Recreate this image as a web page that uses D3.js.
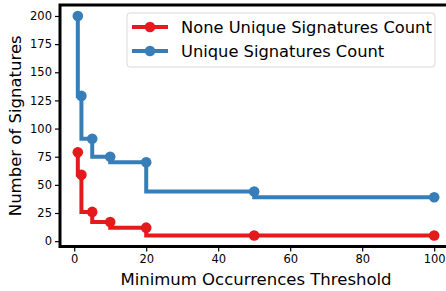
<!DOCTYPE html>
<html>
<head>
<meta charset="utf-8">
<script src="https://cdn.jsdelivr.net/npm/d3@7"></script>
<style>
  body { margin: 0; background: #fff; }
  svg { display: block; font-family: "DejaVu Sans", sans-serif; }
</style>
</head>
<body>
<svg id="chart" width="446" height="291"></svg>
<script>
// thresholds on x, counts on y
var thresholds = [1, 2, 5, 10, 20, 50, 100];
var noneUnique = [79, 59, 26, 17, 12, 5, 5];
var uniqueCounts = [200, 129, 91, 75, 70, 44, 39];
var seriesNames = ["None Unique Signatures Count", "Unique Signatures Count"];
var seriesColors = ["#e41a1c", "#377eb8"];
var xTicks = [0, 20, 40, 60, 80, 100];
var yTicks = [0, 25, 50, 75, 100, 125, 150, 175, 200];

var svg = d3.select("#chart");
var plotL = 60, plotT = 5, plotR = 452, plotB = 246.5;

var x = d3.scaleLinear().domain([-3.95, 104.95]).range([plotL, plotR]);
var y = d3.scaleLinear().domain([-4.75, 209.75]).range([plotB, plotT]);

var series = [noneUnique, uniqueCounts];

var line = d3.line()
    .x(function(d, i){ return x(thresholds[i]); })
    .y(function(d){ return y(d); })
    .curve(d3.curveStepBefore);

series.forEach(function(vals, k){
    svg.append("path")
        .datum(vals)
        .attr("d", line)
        .attr("fill", "none")
        .attr("stroke", seriesColors[k])
        .attr("stroke-width", 4);

    svg.selectAll(".pt" + k)
        .data(vals)
        .enter()
        .append("circle")
        .attr("class", "pt" + k)
        .attr("cx", function(d, i){ return x(thresholds[i]); })
        .attr("cy", function(d){ return y(d); })
        .attr("r", 5.3)
        .attr("fill", seriesColors[k]);
});

// axes
var xAxis = d3.axisBottom(x).tickValues(xTicks).tickSize(5).tickPadding(3);
var yAxis = d3.axisLeft(y).tickValues(yTicks).tickSize(5).tickPadding(3);

var gx = svg.append("g")
    .attr("transform", "translate(0," + plotB + ")")
    .call(xAxis);
var gy = svg.append("g")
    .attr("transform", "translate(" + plotL + ",0)")
    .call(yAxis);

[gx, gy].forEach(function(g){
    g.select(".domain").remove();
    g.selectAll(".tick line").attr("stroke", "#000").attr("stroke-width", 1.2);
    g.selectAll(".tick text")
        .attr("fill", "#000")
        .style("font-size", "11.5px")
        .style("font-family", "DejaVu Sans");
});

// frame (right side falls outside the picture)
svg.append("rect")
    .attr("x", plotL)
    .attr("y", plotT)
    .attr("width", plotR - plotL)
    .attr("height", plotB - plotT)
    .attr("fill", "none")
    .attr("stroke", "#000")
    .attr("stroke-width", 3);

svg.append("text")
    .attr("x", (plotL + plotR) / 2)
    .attr("y", 285)
    .attr("text-anchor", "middle")
    .style("font-size", "16.5px")
    .text("Minimum Occurrences Threshold");

svg.append("text")
    .attr("transform", "translate(21," + ((plotT + plotB) / 2) + ") rotate(-90)")
    .attr("text-anchor", "middle")
    .style("font-size", "16.5px")
    .text("Number of Signatures");

// legend
var legend = svg.append("g");
legend.append("rect")
    .attr("x", 127)
    .attr("y", 13)
    .attr("width", 308)
    .attr("height", 54)
    .attr("rx", 3)
    .attr("fill", "#fff")
    .attr("fill-opacity", 0.8)
    .attr("stroke", "#d9d9d9")
    .attr("stroke-width", 1);

seriesNames.forEach(function(name, k){
    var ly = 27 + k * 24;
    legend.append("line")
        .attr("x1", 132).attr("x2", 168)
        .attr("y1", ly).attr("y2", ly)
        .attr("stroke", seriesColors[k])
        .attr("stroke-width", 4);
    legend.append("circle")
        .attr("cx", 150).attr("cy", ly)
        .attr("r", 5.3)
        .attr("fill", seriesColors[k]);
    legend.append("text")
        .attr("x", 181)
        .attr("y", ly + 6)
        .style("font-size", "16.3px")
        .text(name);
});
</script>
</body>
</html>
